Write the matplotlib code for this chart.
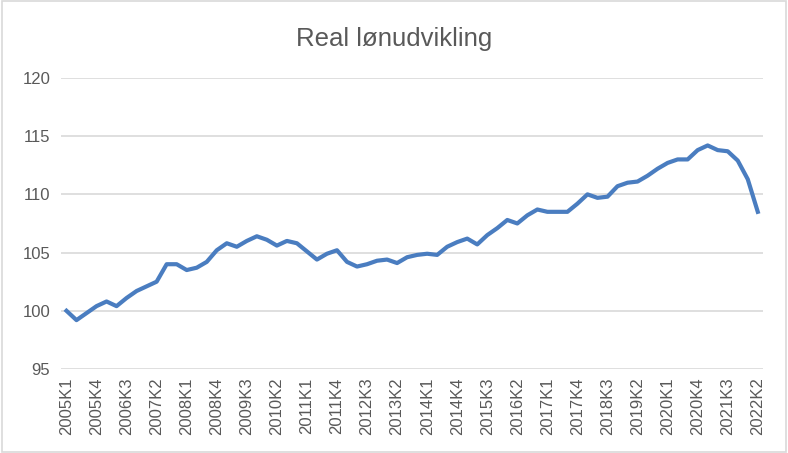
import numpy as np
import matplotlib.pyplot as plt
from matplotlib.patches import Rectangle

# --- Data: real wage index, quarterly 2005K1 - 2022K2 ---
years = list(range(2005, 2023))
quarters = [f"{y}K{q}" for y in years for q in range(1, 5)][:70]

values = [
    100.0, 99.2, 99.8, 100.4, 100.8, 100.4, 101.1, 101.7,   # 2005-2006
    102.1, 102.5, 104.0, 104.0, 103.5, 103.7, 104.2, 105.2,   # 2007-2008
    105.8, 105.5, 106.0, 106.4, 106.1, 105.6, 106.0, 105.8,   # 2009-2010
    105.1, 104.4, 104.9, 105.2, 104.2, 103.8, 104.0, 104.3,   # 2011-2012
    104.4, 104.1, 104.6, 104.8, 104.9, 104.8, 105.5, 105.9,   # 2013-2014
    106.2, 105.7, 106.5, 107.1, 107.8, 107.5, 108.2, 108.7,   # 2015-2016
    108.5, 108.5, 108.5, 109.2, 110.0, 109.7, 109.8, 110.7,   # 2017-2018
    111.0, 111.1, 111.6, 112.2, 112.7, 113.0, 113.0, 113.8,   # 2019-2020
    114.2, 113.8, 113.7, 112.9, 111.3, 108.5,                 # 2021-2022K2
]

title = "Real lønudvikling"
yticks = [95, 100, 105, 110, 115, 120]

plt.rcParams['font.family'] = ['Liberation Sans', 'DejaVu Sans']
grey = '#595959'

fig = plt.figure(figsize=(7.88, 4.53), dpi=100)
ax = fig.add_axes([0.078, 0.1854, 0.890, 0.6426])

x = np.arange(len(values))
ax.plot(x, values, color='#4A7DC0', lw=3.0, solid_joinstyle='round')

ax.set_xlim(-0.5, len(values) - 0.5)
ax.set_ylim(95, 120)
ax.set_yticks(yticks)
ax.set_yticklabels([str(v) for v in yticks], fontsize=12, color=grey)
ax.set_xticks(x[::3])
ax.set_xticklabels(quarters[::3], rotation=90, fontsize=12, color=grey)
ax.tick_params(axis='both', length=0, pad=8)
ax.tick_params(axis='x', pad=6)
ax.grid(axis='y', color='#D9D9D9', lw=1.2)
ax.set_axisbelow(True)
for s in ax.spines.values():
    s.set_visible(False)

fig.text(0.5, 0.914, title, ha='center', va='center', fontsize=18.5, color=grey)

# light frame around the chart
fig.patches.append(Rectangle((0.002, 0.003), 0.996, 0.994, transform=fig.transFigure,
                             fill=False, edgecolor='#D9D9D9', lw=1.2))

fig.savefig("out.png", dpi=100)
plt.close(fig)
